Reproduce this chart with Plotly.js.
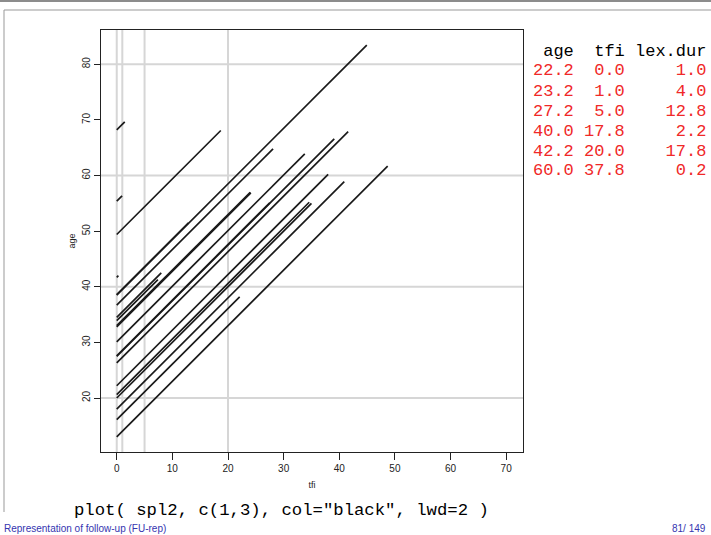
<!DOCTYPE html>
<html>
<head>
<meta charset="utf-8">
<script src="https://cdn.plot.ly/plotly-3.0.1.min.js"></script>
<style>
  html, body { margin: 0; padding: 0; background: #fff; }
  #chart { width: 711px; height: 535px; }
</style>
</head>
<body>
<div id="chart"></div>
<script>
// ---- data: follow-up lines (age at tfi=0, total duration in years) ----
var entryAge = [68.2, 55.4, 49.4, 41.7, 38.5, 38.6, 36.7, 34.5, 33.9, 33.0, 32.8, 30.1, 27.5, 27.6, 26.3, 22.2, 20.6, 20.0, 18.0, 16.1, 13.0];
var duration = [1.44, 0.96, 18.7, 0.3, 44.95, 12.9, 28.1, 8.0, 7.4, 24.0, 24.1, 33.8, 39.1, 27.5, 41.6, 38.0, 34.6, 35.0, 40.9, 22.1, 48.7];

// split points drawn as grid lines
var tfiBreaks = [0, 1, 5, 20];
var ageBreaks = [20, 40, 60, 80];

// tick labels
var xTicks = [0, 10, 20, 30, 40, 50, 60, 70];
var yTicks = [20, 30, 40, 50, 60, 70, 80];

// printed table (one person split in pieces)
var tabAge = [22.2, 23.2, 27.2, 40.0, 42.2, 60.0];
var tabTfi = [0.0, 1.0, 5.0, 17.8, 20.0, 37.8];
var tabDur = [1.0, 4.0, 12.8, 2.2, 17.8, 0.2];

// ---- layout geometry (pixels) ----
var W = 711, H = 535;
var L = 101, R = 523, T = 30, B = 452;
function px2x(px) { return (px - L) / (R - L); }
function py2y(py) { return (B - py) / (B - T); }

// ---- traces ----
var xs = [], ys = [];
for (var i = 0; i < entryAge.length; i++) {
  xs.push(0, duration[i], null);
  ys.push(entryAge[i], entryAge[i] + duration[i], null);
}
var traces = [{
  type: 'scatter', mode: 'lines', x: xs, y: ys,
  line: { color: '#1a1a1a', width: 1.7 },
  hoverinfo: 'skip', showlegend: false, connectgaps: false
}];

// ---- shapes ----
var shapes = [];
tfiBreaks.forEach(function (b) {
  shapes.push({ type: 'line', xref: 'x', yref: 'paper', x0: b, x1: b, y0: 0, y1: 1,
    line: { color: '#d6d6d6', width: 2 }, layer: 'below' });
});
ageBreaks.forEach(function (b) {
  shapes.push({ type: 'line', xref: 'paper', yref: 'y', x0: 0, x1: 1, y0: b, y1: b,
    line: { color: '#d6d6d6', width: 2 }, layer: 'below' });
});
// slide frame
shapes.push({ type: 'line', xref: 'paper', yref: 'paper', x0: px2x(0), x1: px2x(W), y0: py2y(1), y1: py2y(1),
  line: { color: '#666', width: 1.5 } });
shapes.push({ type: 'line', xref: 'paper', yref: 'paper', x0: px2x(4), x1: px2x(W), y0: py2y(10), y1: py2y(10),
  line: { color: '#999', width: 1 } });
shapes.push({ type: 'line', xref: 'paper', yref: 'paper', x0: px2x(4), x1: px2x(4), y0: py2y(10), y1: py2y(512),
  line: { color: '#999', width: 1 } });

// ---- annotations ----
var nb = '\u00a0';
function pad(s, n) { while (s.length < n) s = ' ' + s; return s; }
function nbsp(s) { return s.replace(/ /g, nb); }
var annotations = [];
var rowY0 = 51, rowStep = 20, tabX = 531;
annotations.push({ xref: 'paper', yref: 'paper', x: px2x(tabX), y: py2y(rowY0), xanchor: 'left', yanchor: 'middle',
  showarrow: false, text: nbsp(pad('age', 4) + ' ' + pad('tfi', 4) + ' ' + pad('lex.dur', 7)),
  font: { family: 'Liberation Mono, monospace', size: 17, color: '#000' } });
for (var r = 0; r < tabAge.length; r++) {
  var line = pad(tabAge[r].toFixed(1), 4) + ' ' + pad(tabTfi[r].toFixed(1), 4) + ' ' + pad(tabDur[r].toFixed(1), 7);
  annotations.push({ xref: 'paper', yref: 'paper', x: px2x(tabX), y: py2y(rowY0 + rowStep * (r + 1)),
    xanchor: 'left', yanchor: 'middle', showarrow: false, text: nbsp(line),
    font: { family: 'Liberation Mono, monospace', size: 17, color: '#f02828' } });
}
annotations.push({ xref: 'paper', yref: 'paper', x: px2x(72), y: py2y(510), xanchor: 'left', yanchor: 'middle',
  showarrow: false, text: nbsp('plot( spl2, c(1,3), col="black", lwd=2 )'),
  font: { family: 'Liberation Mono, monospace', size: 17.3, color: '#000' } });
annotations.push({ xref: 'paper', yref: 'paper', x: px2x(2), y: py2y(528), xanchor: 'left', yanchor: 'middle',
  showarrow: false, text: 'Representation of follow-up (FU-rep)',
  font: { family: 'Liberation Sans, Arial, sans-serif', size: 10, color: '#3535b0' } });
annotations.push({ xref: 'paper', yref: 'paper', x: px2x(708), y: py2y(528), xanchor: 'right', yanchor: 'middle',
  showarrow: false, text: '81/ 149',
  font: { family: 'Liberation Sans, Arial, sans-serif', size: 10, color: '#3535b0' } });

var axFont = { family: 'Liberation Sans, Arial, sans-serif', size: 10, color: '#222' };
var layout = {
  width: W, height: H,
  margin: { l: L, r: W - R, t: T, b: H - B, pad: 0 },
  paper_bgcolor: '#fff', plot_bgcolor: '#fff',
  showlegend: false,
  xaxis: {
    range: [-2.83, 73.03], tickvals: xTicks, ticktext: xTicks.map(String),
    showgrid: false, zeroline: false, ticks: 'outside', ticklen: 7, tickcolor: '#222', tickwidth: 1,
    showline: true, linecolor: '#222', linewidth: 1, mirror: true,
    tickfont: axFont,
    title: { text: 'tfi', font: { family: 'Liberation Sans, Arial, sans-serif', size: 9, color: '#222' }, standoff: 8 }
  },
  yaxis: {
    range: [10.29, 86.17], tickvals: yTicks, ticktext: yTicks.map(String), tickangle: -90,
    showgrid: false, zeroline: false, ticks: 'outside', ticklen: 6, tickcolor: '#222', tickwidth: 1,
    showline: true, linecolor: '#222', linewidth: 1, mirror: true,
    tickfont: axFont,
    title: { text: 'age', font: { family: 'Liberation Sans, Arial, sans-serif', size: 9, color: '#222' }, standoff: 3 }
  },
  shapes: shapes,
  annotations: annotations
};

Plotly.newPlot('chart', traces, layout, { staticPlot: true, displayModeBar: false });
</script>
</body>
</html>
